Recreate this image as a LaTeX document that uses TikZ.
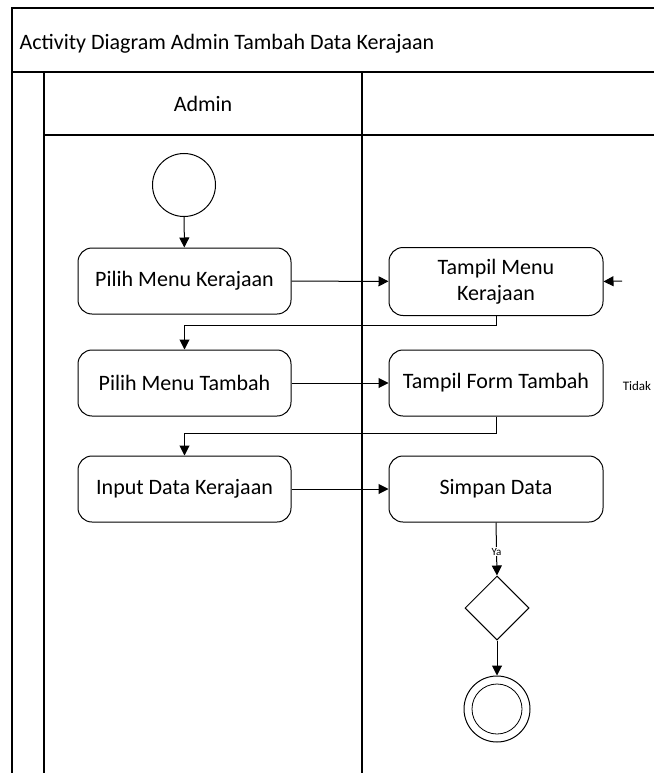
\documentclass[tikz,border=0pt]{standalone}
\usepackage{fontspec}
\setmainfont{Carlito}
\usetikzlibrary{arrows.meta,shapes.geometric}
\tikzset{
  frameline/.style={line width=1.6pt},
  laneline/.style={line width=1.1pt},
  bigtext/.style={font=\fontsize{22}{26}\selectfont},
  actbox/.style={draw, rounded corners=14pt, line width=1pt, minimum width=213pt,
    minimum height=66pt, align=center, bigtext, inner sep=2pt},
  flow/.style={line width=1pt, -{Triangle[length=10pt,width=10pt]}},
  smalllabel/.style={font=\fontsize{11}{13}\selectfont, inner sep=1pt}
}
\begin{document}
\begin{tikzpicture}[x=1pt,y=-1pt]
\useasboundingbox (0,0) rectangle (654,773);
% frame and swimlanes
\draw[frameline] (654,8) -- (12,8) -- (12,773);
\draw[frameline] (12,72) -- (654,72);
\draw[frameline] (44,72) -- (44,773);
\draw[laneline] (362,72) -- (362,773);
\draw[laneline] (44,135) -- (654,135);
\node[anchor=west, bigtext] (title) at (16,44) {Activity Diagram Admin Tambah Data Kerajaan};
\node[bigtext] (lane) at (203,104) {Admin};

% start
\node[draw, circle, line width=1pt, minimum size=63pt, inner sep=0pt] (start) at (184,185) {};

% activities
\node[actbox] (a1) at (184.5,281) {Pilih Menu Kerajaan};
\node[actbox, minimum width=214pt, minimum height=68pt] (b1) at (496,281.5) {Tampil Menu\\Kerajaan};
\node[actbox] (a2) at (184.5,383) {Pilih Menu Tambah};
\node[actbox, minimum width=214pt] (b2) at (496,383) {Tampil Form Tambah};
\node[actbox] (a3) at (184.5,489) {Input Data Kerajaan};
\node[actbox, minimum width=214pt] (b3) at (496,489) {Simpan Data};

% decision and end
\node[draw, diamond, line width=1pt, minimum width=64pt, minimum height=64pt, inner sep=0pt] (dec) at (497,608) {};
\node[draw, circle, line width=1pt, minimum size=66pt, inner sep=0pt] (end) at (497,709) {};
\node[draw, circle, line width=0.8pt, minimum size=50pt, inner sep=0pt] (endin) at (497,709) {};

% flows
\draw[flow] (start) -- (a1);
\draw[flow] (a1) -- (b1);
\draw[flow] (b1.south) -- ++(0,9) -| (a2.north);
\draw[flow] (a2) -- (b2);
\draw[flow] (b2.south) -- ++(0,17) -| (a3.north);
\draw[flow] (a3) -- (b3);
\draw[flow] (b3.south) -- (dec.north) node[pos=0.55, fill=white, smalllabel] (ya) {Ya};
\draw[flow] (dec.south) -- (end.north);

% loop back from the decision
\coordinate (back) at (622,281);
\draw[flow] (back) -- (b1.east);
\node[font=\fontsize{13}{15}\selectfont, inner sep=1pt] (tidak) at (637,386) {Tidak};
\end{tikzpicture}
\end{document}
